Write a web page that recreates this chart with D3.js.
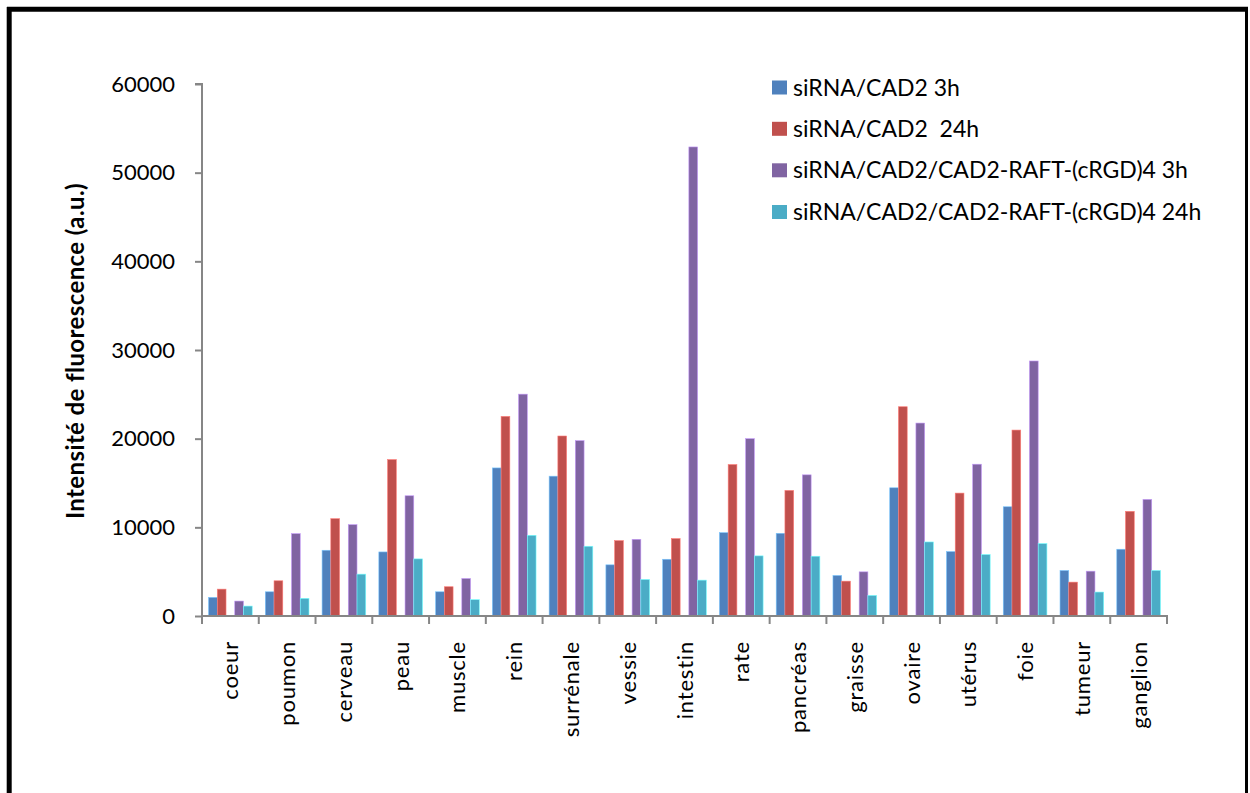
<!DOCTYPE html>
<html><head><meta charset="utf-8">
<script src="https://cdn.jsdelivr.net/npm/d3@7"></script>
<style>body{margin:0;background:#fff}svg{display:block}text{font-family:Lato,"Open Sans",sans-serif}</style>
</head><body><svg id="c" width="1250" height="793"></svg>
<script>
const categories = ["coeur","poumon","cerveau","peau","muscle","rein","surrénale","vessie","intestin","rate","pancréas","graisse","ovaire","utérus","foie","tumeur","ganglion"];
const seriesNames = ["siRNA/CAD2 3h","siRNA/CAD2  24h","siRNA/CAD2/CAD2-RAFT-(cRGD)4 3h","siRNA/CAD2/CAD2-RAFT-(cRGD)4 24h"];
const cad2_3h  = [2100,2730,7415,7225,2730,16700,15770,5770,6400,9400,9325,4570,14460,7265,12320,5130,7530];
const cad2_24h = [3030,3970,10975,17640,3300,22510,20300,8500,8730,17080,14160,3930,23600,13860,20970,3820,11800];
const raft_3h  = [1685,9290,10300,13560,4230,25020,19775,8650,52900,20000,15920,4980,21760,17120,28760,5055,13150];
const raft_24h = [1120,1990,4720,6440,1840,9100,7865,4120,4045,6780,6740,2320,8350,6930,8165,2700,5130];
const yTicks = [0,10000,20000,30000,40000,50000,60000];
const colors = ["#4F81BD","#C0504D","#8064A2","#4BACC6"];
const slots = ["s0","s1","gap","s2","s3"];
const seriesData = [cad2_3h,cad2_24h,raft_3h,raft_24h];

const svg = d3.select("#c");
const X0=202, X1=1167, Y0=616, Y1=84;
const x = d3.scaleBand().domain(categories).range([X0,X1]).paddingInner(0).paddingOuter(0);
const bw = x.bandwidth();
const inner = d3.scaleBand().domain(slots).range([bw*0.75/6.5, bw - bw*0.75/6.5]);
const y = d3.scaleLinear().domain([0,60000]).range([Y0,Y1]);

// frame
svg.append("line").attr("x1",9.2).attr("x2",9.2).attr("y1",7).attr("y2",793).attr("stroke","#000").attr("stroke-width",5);
svg.append("line").attr("x1",7).attr("x2",1248).attr("y1",9.2).attr("y2",9.2).attr("stroke","#000").attr("stroke-width",5);
svg.append("line").attr("x1",1246.5).attr("x2",1246.5).attr("y1",7).attr("y2",793).attr("stroke","#000").attr("stroke-width",3);

// bars
seriesData.forEach((vals,si)=>{
  svg.append("g").selectAll("rect").data(vals).join("rect")
    .attr("x",(d,i)=>x(categories[i])+inner(slots[si<2?si:si+1]))
    .attr("width",inner.bandwidth())
    .attr("y",d=>y(d)).attr("height",d=>Y0-y(d))
    .attr("fill",colors[si])
    .attr("stroke",d3.color(colors[si]).brighter(1.2)).attr("stroke-width",0.6);
});

// y axis
const ya = svg.append("g").attr("transform",`translate(${X0},0)`)
  .call(d3.axisLeft(y).tickValues(yTicks).tickSize(7).tickPadding(20).tickFormat(d3.format("d")));
ya.select(".domain").attr("stroke","#868686").attr("stroke-width",2).attr("d",`M-7,${Y1}H0V${Y0+8}`);
ya.selectAll(".tick line").attr("stroke","#868686").attr("stroke-width",2);
ya.selectAll(".tick text").attr("font-size",22).attr("fill","#000").attr("font-family","Lato");

// x axis
const xa = svg.append("g").attr("transform",`translate(0,${Y0})`);
xa.append("line").attr("x1",X0-1).attr("x2",X1+1).attr("y1",0).attr("y2",0).attr("stroke","#868686").attr("stroke-width",2);
const bounds = categories.map(c=>x(c)).concat([X1]);
xa.selectAll("line.tk").data(bounds).join("line").attr("class","tk")
  .attr("x1",d=>d).attr("x2",d=>d).attr("y1",0).attr("y2",8).attr("stroke","#868686").attr("stroke-width",2);
xa.selectAll("text").data(categories).join("text")
  .attr("transform",d=>`translate(${x(d)+bw/2+8},25) rotate(-90)`)
  .attr("text-anchor","end").attr("font-size",22).attr("letter-spacing",0.8).attr("fill","#000")
  .text(d=>d);

// y title
svg.append("text").attr("transform","translate(84,351) rotate(-90)").attr("text-anchor","middle")
  .attr("font-size",24).attr("letter-spacing",0.4).attr("font-weight","bold").attr("fill","#000").text("Intensité de fluorescence (a.u.)");

// legend
const lg = svg.append("g");
const rowY = [87.5,128.8,170.3,212];
seriesNames.forEach((n,i)=>{
  lg.append("rect").attr("x",772).attr("y",rowY[i]-7).attr("width",15).attr("height",14).attr("fill",colors[i]);
  lg.append("text").attr("x",793).attr("y",rowY[i]+8).attr("font-size",23).attr("fill","#000").style("white-space","pre").text(n);
});
</script></body></html>
